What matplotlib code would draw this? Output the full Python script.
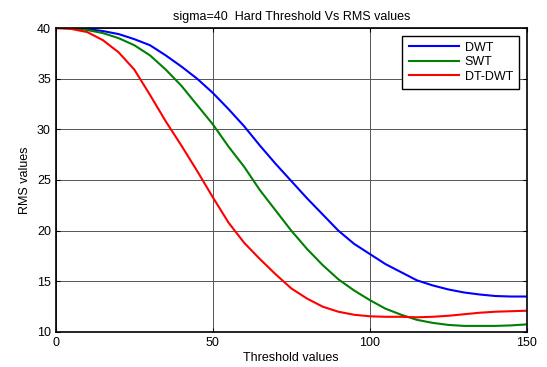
"""
sigma=40 hard threshold: RMS vs threshold for DWT / SWT / DT-DWT.
"""
import numpy as np
import matplotlib
matplotlib.use("Agg")
import matplotlib.pyplot as plt

plt.rcParams["font.family"] = ["Liberation Sans", "DejaVu Sans"]

# ── data ────────────────────────────────────────────────────────────────────
threshold = np.arange(0, 151, 5)

rms_dwt = [40.0, 40.0, 39.9, 39.7, 39.4, 38.9, 38.3, 37.3, 36.2, 35.0, 33.6,
           32.0, 30.3, 28.4, 26.6, 24.9, 23.2, 21.6, 20.0, 18.7, 17.7,
           16.7, 15.9, 15.1, 14.6, 14.2, 13.9, 13.7, 13.55, 13.5, 13.5]
rms_swt = [40.0, 40.0, 39.8, 39.5, 39.0, 38.3, 37.3, 35.9, 34.3, 32.4, 30.5,
           28.3, 26.3, 24.0, 22.0, 20.0, 18.2, 16.6, 15.2, 14.1, 13.15,
           12.3, 11.7, 11.2, 10.9, 10.7, 10.6, 10.6, 10.6, 10.65, 10.75]
rms_dtdwt = [40.0, 39.9, 39.6, 38.8, 37.6, 35.9, 33.4, 30.8, 28.4, 25.9, 23.3,
             20.8, 18.8, 17.2, 15.7, 14.3, 13.3, 12.5, 12.0, 11.7, 11.55,
             11.5, 11.5, 11.45, 11.5, 11.6, 11.75, 11.9, 12.0, 12.05, 12.1]

labels = ["DWT", "SWT", "DT-DWT"]
colors = ["#0000ff", "#008000", "#ff0000"]

# ── plot ────────────────────────────────────────────────────────────────────
fig = plt.figure(figsize=(5.47, 3.67), dpi=100)
ax = fig.add_axes([0.102, 0.0954, 0.861, 0.8283])

for ys, lab, col in zip([rms_dwt, rms_swt, rms_dtdwt], labels, colors):
    ax.plot(threshold, ys, color=col, lw=1.5, label=lab)

ax.set_xlim(0, 150)
ax.set_ylim(10, 40)
ax.set_xticks([0, 50, 100, 150])
ax.set_yticks([10, 15, 20, 25, 30, 35, 40])
ax.grid(True, color="#555555", lw=0.7)
ax.tick_params(direction="in", top=True, right=True, labelsize=9, length=3)
for sp in ax.spines.values():
    sp.set_linewidth(1.2)

ax.set_xlabel("Threshold values", fontsize=9, labelpad=2)
ax.set_ylabel("RMS values", fontsize=9)
ax.set_title("sigma=40  Hard Threshold Vs RMS values", fontsize=9, pad=6)

leg = ax.legend(loc="upper right", fontsize=9, handlelength=4.0,
                handletextpad=0.5, borderpad=0.5, fancybox=False,
                framealpha=1, edgecolor="black", borderaxespad=0.6,
                labelspacing=0.2)
leg.get_frame().set_linewidth(1.0)

fig.savefig("out.png", dpi=100)
